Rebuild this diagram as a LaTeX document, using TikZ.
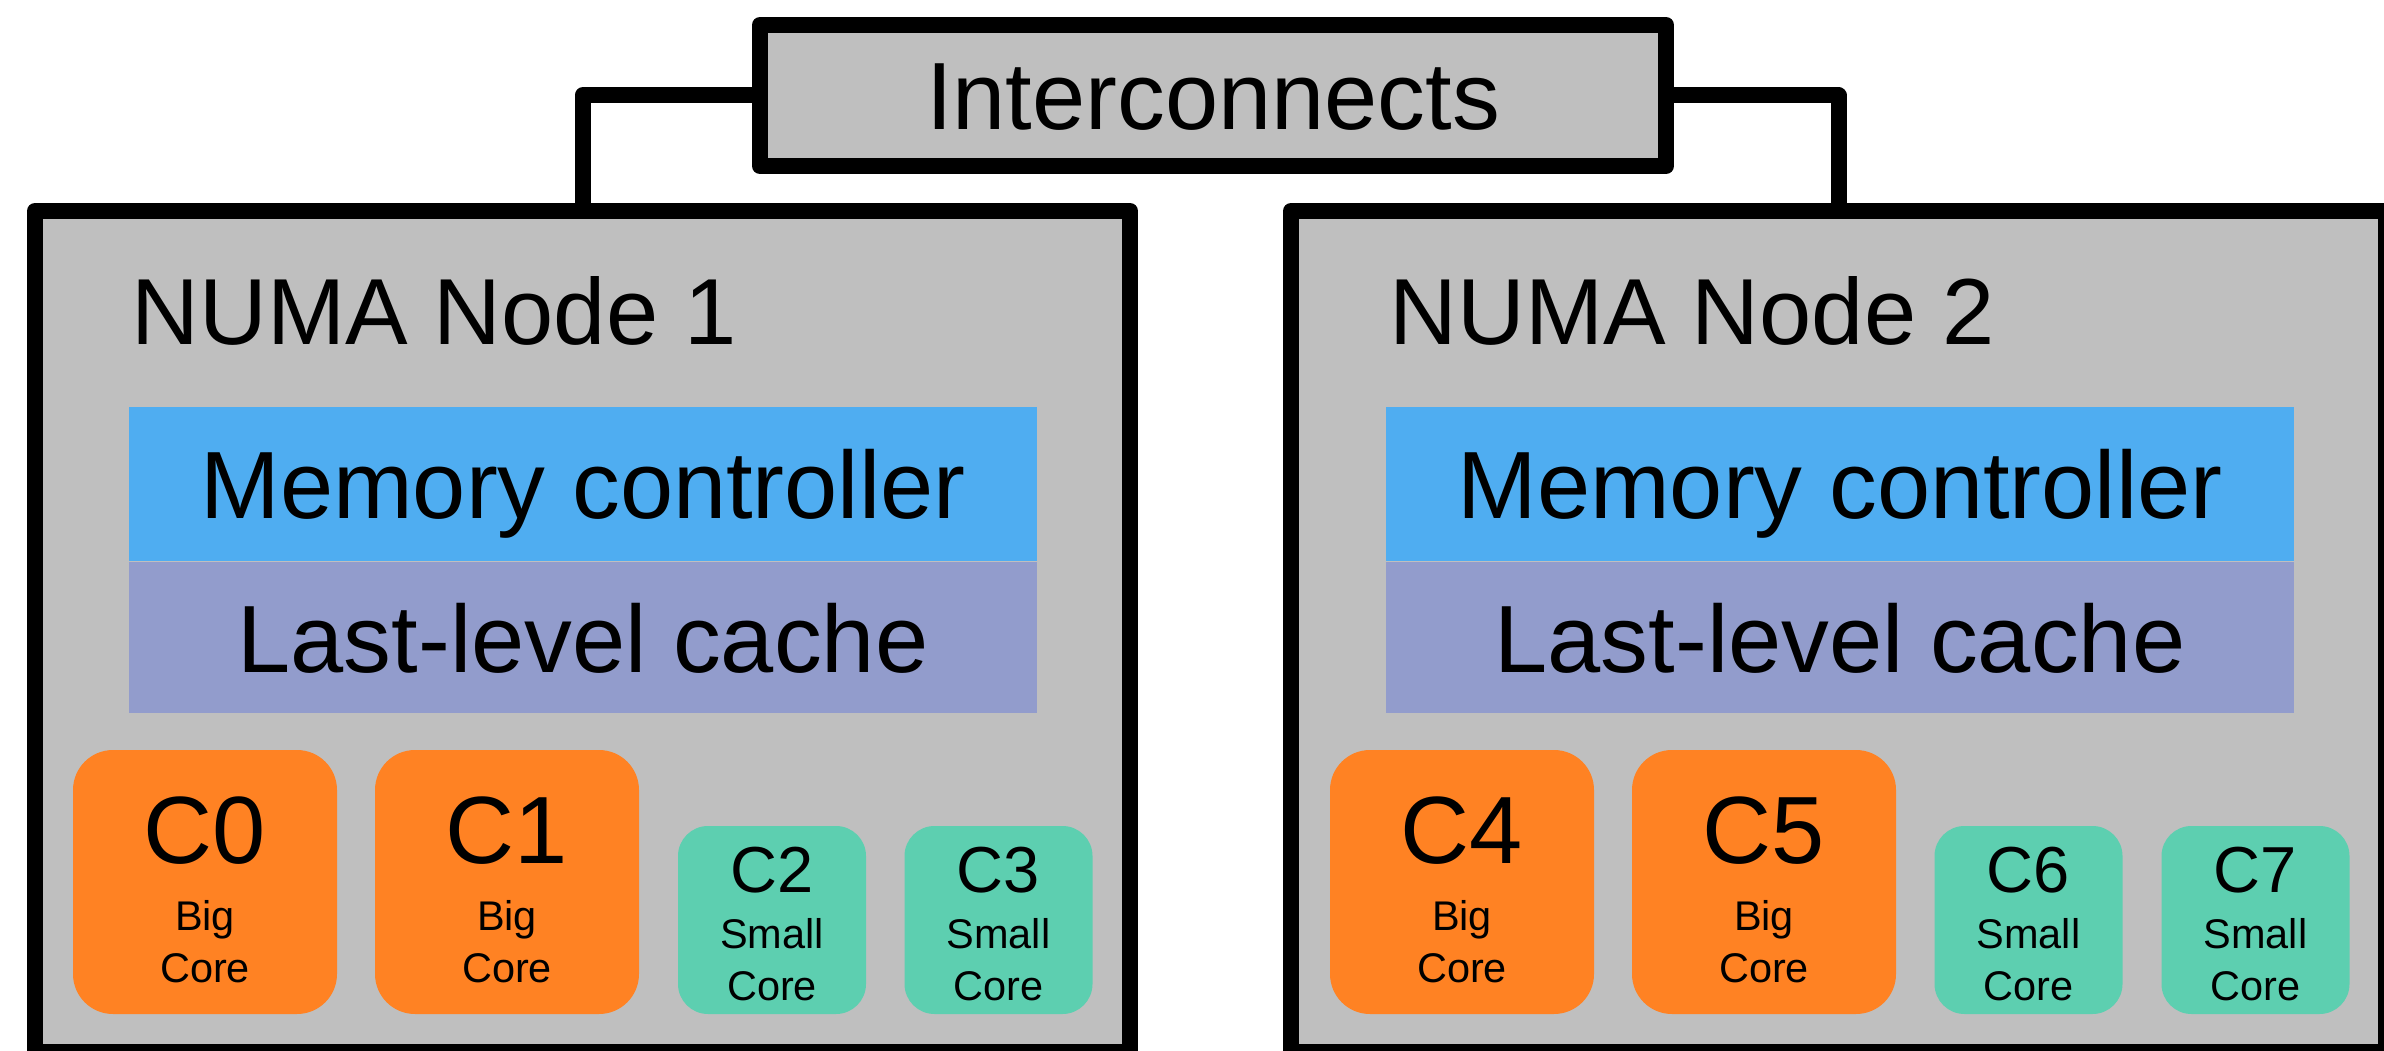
\documentclass[tikz,border=0pt]{standalone}
\usepackage{fontspec}
\setmainfont{Liberation Sans}
\definecolor{boxgray}{RGB}{191,191,191}
\definecolor{memblue}{RGB}{79,173,241}
\definecolor{cachepurple}{RGB}{146,156,204}
\definecolor{bigorange}{RGB}{255,130,35}
\definecolor{smallteal}{RGB}{93,207,176}
\usetikzlibrary{positioning}

\tikzset{
  numabox/.style={draw=black, line width=0.16cm, line join=round, fill=boxgray,
                  minimum width=10.95cm, minimum height=8.41cm, inner sep=0pt},
  busbox/.style={draw=black, line width=0.16cm, line join=round, fill=boxgray,
                 minimum width=9.06cm, minimum height=1.41cm, inner sep=0pt,
                 font=\fontsize{27.2}{33}\selectfont, text height=19.6pt, text depth=0pt},
  link/.style={draw=black, line width=0.16cm, line join=round},
  numatitle/.style={inner sep=0pt, font=\fontsize{26.7}{32}\selectfont},
  memband/.style={minimum width=9.08cm, inner sep=0pt,
                  font=\fontsize{27.2}{33}\selectfont, text height=19.6pt, text depth=0pt},
  bigcore/.style={fill=bigorange, rounded corners=0.4cm, minimum size=2.64cm, inner sep=0pt},
  smallcore/.style={fill=smallteal, rounded corners=0.3cm, minimum size=1.88cm, inner sep=0pt},
  bigtag/.style={inner sep=0pt, font=\fontsize{27.2}{33}\selectfont},
  smalltag/.style={inner sep=0pt, font=\fontsize{18.5}{22}\selectfont},
  subtag/.style={inner sep=0pt, align=center, font=\fontsize{11.8}{14.8}\selectfont}
}

\begin{document}
\begin{tikzpicture}
  \useasboundingbox (0,0) rectangle (23.84,-10.51);

  % the two NUMA nodes
  \node[numabox] (numa1) at (5.825,-6.315) {};
  \node[numabox] (numa2) at (18.385,-6.315) {};

  % interconnect bar on top
  \node[busbox] (inter) at (12.13,-0.955) {Interconnects};
  \draw[link] (inter.west) -| (numa1.north);
  \draw[link] (inter.east) -| (numa2.north);

  \node[numatitle, anchor=base west] (title1) at (1.31,-3.45) {NUMA Node 1};
  \node[numatitle, anchor=base west] (title2) at (13.89,-3.45) {NUMA Node 2};

  \node[memband, fill=memblue, minimum height=1.54cm] (mem1) at (5.83,-4.84) {Memory controller};
  \node[memband, fill=cachepurple, minimum height=1.51cm, below=0pt of mem1] (llc1) {Last-level cache};
  \node[memband, fill=memblue, minimum height=1.54cm] (mem2) at (18.40,-4.84) {Memory controller};
  \node[memband, fill=cachepurple, minimum height=1.51cm, below=0pt of mem2] (llc2) {Last-level cache};

  % cores
  \foreach \n/\x in {0/2.05, 1/5.07, 4/14.62, 5/17.64} {
    \node[bigcore] (c\n) at (\x,-8.82) {};
    \node[bigtag, below=0.47cm of c\n.north] (c\n tag) {C\n};
    \node[subtag, below=1.50cm of c\n.north] (c\n sub) {Big\\Core};
  }
  \foreach \n/\x in {2/7.72, 3/9.985, 6/20.285, 7/22.555} {
    \node[smallcore] (c\n) at (\x,-9.20) {};
    \node[smalltag, below=0.21cm of c\n.north] (c\n tag) {C\n};
    \node[subtag, below=0.92cm of c\n.north] (c\n sub) {Small\\Core};
  }
\end{tikzpicture}
\end{document}
